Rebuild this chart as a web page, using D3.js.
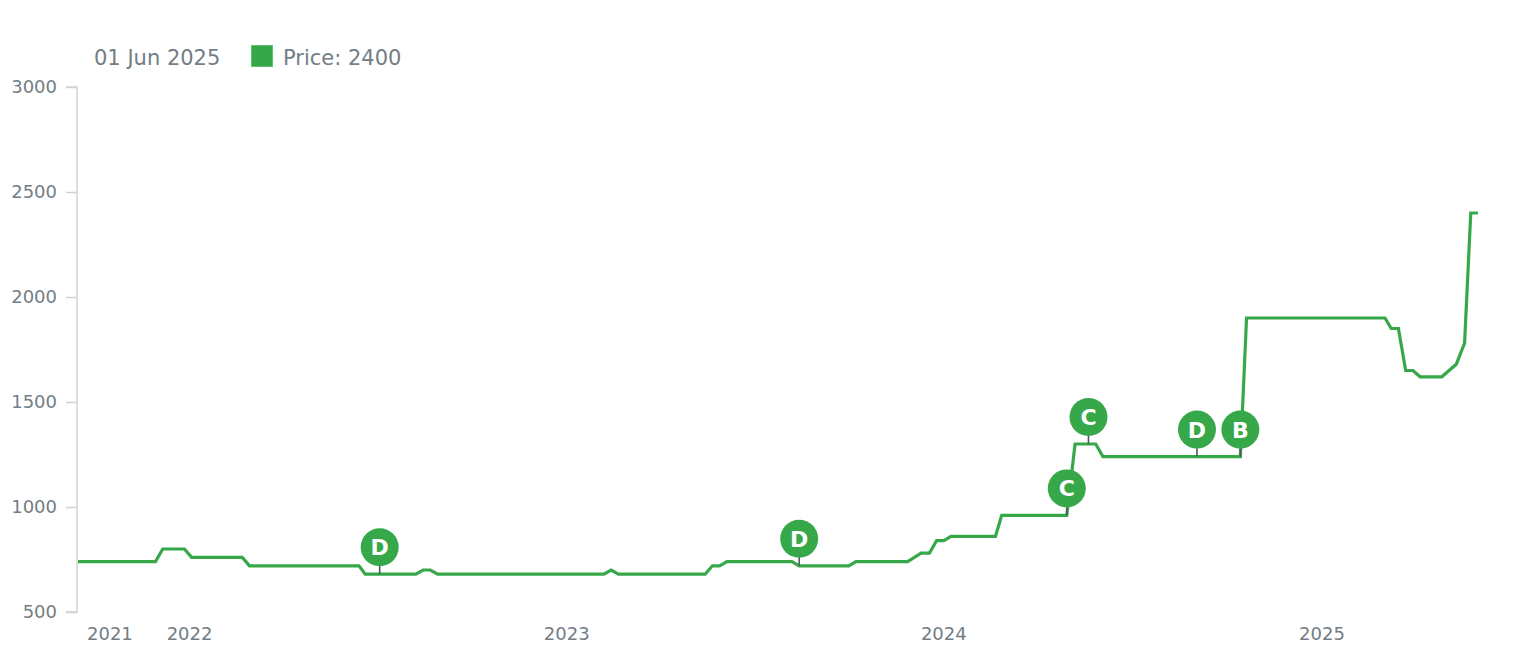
<!DOCTYPE html>
<html>
<head>
<meta charset="utf-8">
<script src="https://cdn.jsdelivr.net/npm/d3@7"></script>
<style>
  html, body { margin: 0; padding: 0; background: #ffffff; }
  svg { display: block; font-family: "DejaVu Sans", Verdana, sans-serif; }
</style>
</head>
<body>
<svg id="chart" width="1514" height="648"></svg>
<script>
// ---- Data ----
const dates = [
  "2021-09-15","2021-11-29","2021-12-06","2021-12-27","2022-01-03","2022-02-21","2022-02-28",
  "2022-06-14","2022-06-20","2022-08-08","2022-08-15","2022-08-22","2022-08-29",
  "2023-02-06","2023-02-13","2023-02-20","2023-05-15","2023-05-22","2023-05-29","2023-06-05",
  "2023-08-07","2023-08-14","2023-10-01","2023-10-08","2023-11-27","2023-12-10","2023-12-18",
  "2023-12-25","2024-01-01","2024-01-08","2024-02-20","2024-02-26","2024-04-29","2024-05-07",
  "2024-05-27","2024-06-03","2024-10-14","2024-10-20","2025-03-03","2025-03-09","2025-03-16",
  "2025-03-23","2025-03-30","2025-04-06","2025-04-27","2025-05-11","2025-05-19","2025-05-25",
  "2025-06-01"
];
const prices = [
  740, 740, 800, 800, 760, 760, 720,
  720, 680, 680, 700, 700, 680,
  680, 700, 680, 680, 720, 720, 740,
  740, 720, 720, 740, 740, 780, 780,
  840, 840, 860, 860, 960, 960, 1300,
  1300, 1240, 1240, 1900, 1900, 1850, 1850,
  1650, 1650, 1620, 1620, 1680, 1780, 2400,
  2400
];
const eventDates  = ["2022-07-04","2023-08-14","2024-04-29","2024-05-20","2024-09-02","2024-10-14"];
const eventPrices = [680, 720, 960, 1300, 1240, 1240];
const eventLabels = ["D", "D", "C", "C", "D", "B"];
const yTicks = [500, 1000, 1500, 2000, 2500, 3000];
const yearTicks = ["2021", "2022", "2023", "2024", "2025"];
const seriesName = "Price";

// ---- Setup ----
const parse = d3.timeParse("%Y-%m-%d");
const data = dates.map((d, i) => ({ date: parse(d), price: prices[i] }));
const events = eventDates.map((d, i) => ({ date: parse(d), price: eventPrices[i], label: eventLabels[i] }));

const W = 1514, H = 648;
const margin = { left: 78, right: 36, top: 87, bottom: 36 };
const green = "#37a84a";
const textGray = "#737d84";

const svg = d3.select("#chart");

const x = d3.scaleTime()
  .domain([data[0].date, data[data.length - 1].date])
  .range([margin.left, W - margin.right]);
const y = d3.scaleLinear()
  .domain([500, 3000])
  .range([H - margin.bottom, margin.top]);

// ---- Y axis ----
const yAxis = svg.append("g")
  .attr("transform", `translate(${margin.left - 1},0)`)
  .call(d3.axisLeft(y).tickValues(yTicks).tickSize(11).tickPadding(9).tickFormat(d3.format("d")));
yAxis.select(".domain").attr("stroke", "#cfd2d4").attr("stroke-width", 1.5)
  .attr("d", `M-11,${y(3000)}H0V${y(500)}H-11`);
yAxis.selectAll(".tick line").attr("stroke", "#cfd2d4").attr("stroke-width", 1.5);
yAxis.selectAll(".tick text").attr("fill", textGray).style("font-size", "18px")
  .style("font-family", "'DejaVu Sans', Verdana, sans-serif");

// ---- X axis labels (years) ----
const x0 = x.range()[0];
svg.append("g").selectAll("text")
  .data(yearTicks)
  .join("text")
  .attr("x", d => {
    const px = x(parse(d + "-01-01"));
    return px < x0 ? x0 + 9 : px;
  })
  .attr("text-anchor", d => x(parse(d + "-01-01")) < x0 ? "start" : "middle")
  .attr("y", 640)
  .attr("fill", textGray)
  .style("font-size", "18px")
  .text(d => d);

// ---- Line ----
const line = d3.line().x(d => x(d.date)).y(d => y(d.price));
svg.append("path")
  .datum(data)
  .attr("fill", "none")
  .attr("stroke", green)
  .attr("stroke-width", 3.2)
  .attr("stroke-linejoin", "miter")
  .attr("d", line);

// ---- Event bullets ----
const R = 19, OFF = 27;
const ev = svg.append("g").selectAll("g")
  .data(events)
  .join("g")
  .attr("transform", d => `translate(${x(d.date)},${y(d.price)})`);
ev.append("line")
  .attr("x1", 0).attr("x2", 0)
  .attr("y1", 0).attr("y2", -(OFF - R) - 1)
  .attr("stroke", "#4e5a5f").attr("stroke-width", 1.6);
ev.append("circle")
  .attr("cx", 0).attr("cy", -OFF).attr("r", R)
  .attr("fill", green);
ev.append("text")
  .attr("x", 0).attr("y", -OFF)
  .attr("dy", "0.36em")
  .attr("text-anchor", "middle")
  .attr("fill", "#ffffff")
  .style("font-size", "22px")
  .style("font-weight", "bold")
  .text(d => d.label);

// ---- Legend ----
const last = data[data.length - 1];
const legend = svg.append("g");
legend.append("text")
  .attr("x", 94).attr("y", 65)
  .attr("fill", textGray)
  .style("font-size", "21px")
  .text(d3.timeFormat("%d %b %Y")(last.date));
legend.append("rect")
  .attr("x", 251.5).attr("y", 45.5).attr("width", 21).attr("height", 21)
  .attr("fill", green).attr("stroke", "#5cc46b").attr("stroke-width", 1);
legend.append("text")
  .attr("x", 283).attr("y", 65)
  .attr("fill", textGray)
  .style("font-size", "21px")
  .text(`${seriesName}: ${last.price}`);
</script>
</body>
</html>
